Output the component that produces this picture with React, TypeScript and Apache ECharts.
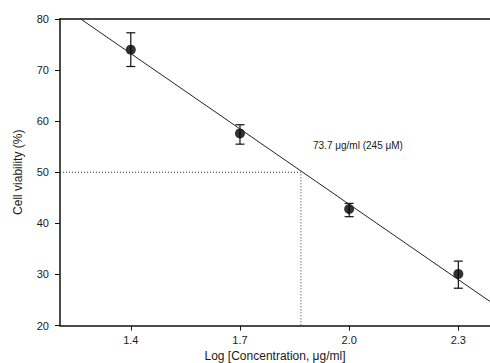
import React, { useEffect, useRef } from "react";
import * as echarts from "echarts";

const xTicks = [1.4, 1.7, 2.0, 2.3];
const yTicks = [20, 30, 40, 50, 60, 70, 80];
const logConc = [1.4, 1.7, 2.0, 2.3];
const viability = [74.0, 57.6, 42.8, 30.1];
const errLow = [70.7, 55.5, 41.3, 27.3];
const errHigh = [77.3, 59.3, 43.9, 32.6];
const fitX = [1.2624, 2.387];
const fitY = [80, 24.7];
const ic50X = [1.2055, 1.8675, 1.8675];
const ic50Y = [50, 50, 20];
const ic50Label = "73.7 μg/ml (245 μM)";

const FONT = "Liberation Sans, Arial, sans-serif";

export default function App() {
  const ref = useRef<HTMLDivElement>(null);
  useEffect(() => {
    if (!ref.current) return;
    const chart = echarts.init(ref.current, null, { renderer: "svg" });
    const points = logConc.map((x, i) => [x, viability[i]]);
    const errs = logConc.map((x, i) => [x, errLow[i], errHigh[i]]);
    chart.setOption({
      animation: false,
      backgroundColor: "#ffffff",
      grid: {
        left: 60,
        right: 0,
        top: 19,
        bottom: 37.5,
        containLabel: false,
        outerBoundsMode: "none",
      },
      xAxis: [
        {
          type: "value",
          min: 1.2055,
          max: 2.387,
          name: "Log [Concentration, μg/ml]",
          nameLocation: "middle",
          nameGap: 24,
          nameTextStyle: { fontFamily: FONT, fontSize: 12, color: "#1a1a1a" },
          axisLine: { show: true, lineStyle: { color: "#111", width: 1.5 } },
          axisTick: { show: true, customValues: xTicks, length: 5, lineStyle: { color: "#111", width: 1 } },
          axisLabel: {
            customValues: xTicks,
            formatter: (v: number) => v.toFixed(1),
            fontFamily: FONT,
            fontSize: 11,
            color: "#1a1a1a",
            margin: 9,
          },
          splitLine: { show: false },
        },
        {
          type: "value",
          position: "top",
          min: 1.2055,
          max: 2.387,
          axisLine: { show: true, lineStyle: { color: "#111", width: 1.5 } },
          axisTick: { show: false },
          axisLabel: { show: false },
          splitLine: { show: false },
        },
      ],
      yAxis: {
        type: "value",
        min: 20,
        max: 80,
        interval: 10,
        name: "Cell viability (%)",
        nameLocation: "middle",
        nameGap: 36,
        nameTextStyle: { fontFamily: FONT, fontSize: 12, color: "#1a1a1a" },
        axisLine: { show: true, lineStyle: { color: "#111", width: 1.5 } },
        axisTick: { show: true, length: 5, lineStyle: { color: "#111", width: 1 } },
        axisLabel: {
          fontFamily: FONT,
          fontSize: 11,
          color: "#1a1a1a",
          margin: 11,
          formatter: (v: number) => (yTicks.includes(v) ? String(v) : ""),
        },
        splitLine: { show: false },
      },
      series: [
        {
          type: "line",
          data: fitX.map((x, i) => [x, fitY[i]]),
          symbol: "none",
          lineStyle: { color: "#222", width: 1 },
          silent: true,
        },
        {
          type: "line",
          data: ic50X.map((x, i) => [x, ic50Y[i]]),
          symbol: "none",
          lineStyle: { color: "#333", width: 1, type: [1, 2] },
          silent: true,
        },
        {
          type: "custom",
          data: errs,
          renderItem: (params: any, api: any) => {
            const x = api.value(0);
            const lo = api.coord([x, api.value(1)]);
            const hi = api.coord([x, api.value(2)]);
            const w = 4.5;
            const style = { stroke: "#111", lineWidth: 1.2 };
            return {
              type: "group",
              children: [
                { type: "line", shape: { x1: lo[0], y1: lo[1], x2: hi[0], y2: hi[1] }, style },
                { type: "line", shape: { x1: lo[0] - w, y1: lo[1], x2: lo[0] + w, y2: lo[1] }, style },
                { type: "line", shape: { x1: hi[0] - w, y1: hi[1], x2: hi[0] + w, y2: hi[1] }, style },
              ],
            };
          },
          silent: true,
        },
        {
          type: "scatter",
          data: points,
          symbol: "circle",
          symbolSize: 10,
          itemStyle: { color: "#000" },
          silent: true,
        },
      ],
      graphic: [
        {
          type: "text",
          left: 313,
          top: 140,
          style: {
            text: ic50Label,
            font: `10px ${FONT}`,
            fill: "#1a1a1a",
          },
        },
      ],
    });
    return () => chart.dispose();
  }, []);
  return (
    <div
      ref={ref}
      style={{ position: "fixed", left: 0, top: 0, width: 490, height: 363, background: "#fff" }}
    />
  );
}
